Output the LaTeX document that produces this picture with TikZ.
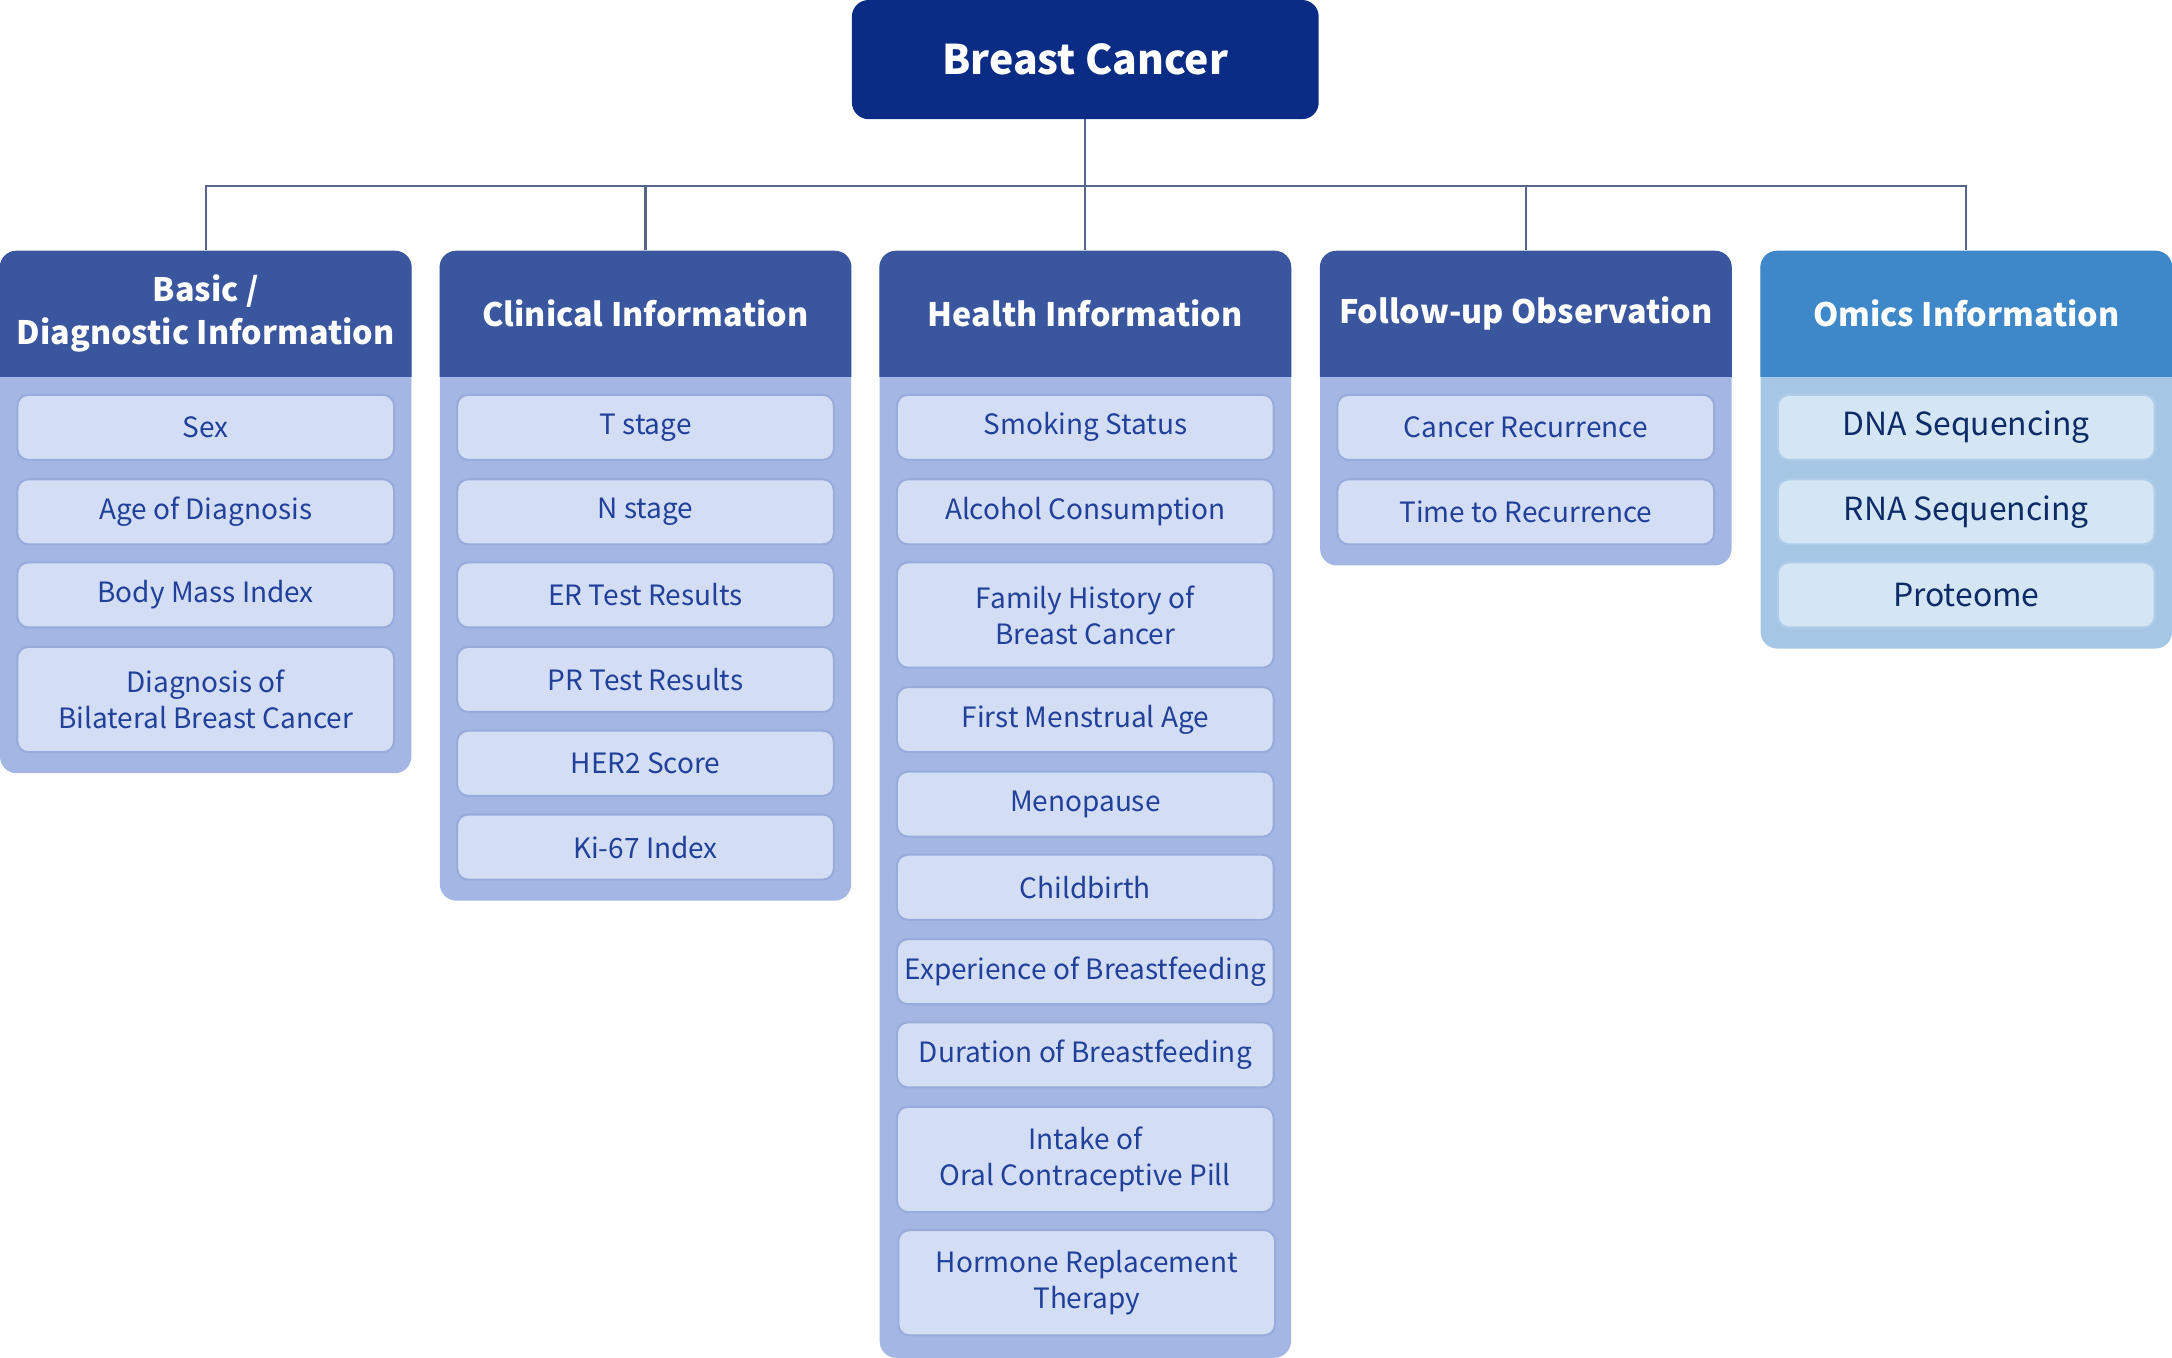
\documentclass[tikz,border=0pt]{standalone}
\usepackage{fontspec}
\setmainfont{Noto Sans CJK KR}
\definecolor{rootc}{HTML}{0B2C84}
\definecolor{hdrc}{HTML}{3A569F}
\definecolor{bodyc}{HTML}{A4B6E3}
\definecolor{itemf}{HTML}{D3DEF5}
\definecolor{itemb}{HTML}{98ACDC}
\definecolor{itemt}{HTML}{21409A}
\definecolor{ohdrc}{HTML}{3E88C9}
\definecolor{obodyc}{HTML}{A5C7E5}
\definecolor{oitemf}{HTML}{D4E5F3}
\definecolor{oitemb}{HTML}{AFCDEA}
\definecolor{oitemt}{HTML}{0D2B66}
\definecolor{connc}{HTML}{56658C}
\begin{document}
\begin{tikzpicture}[x=1pt,y=-1pt,
  rootbox/.style={fill=rootc, rounded corners=12pt, minimum width=337pt, minimum height=86pt, inner sep=0pt, text=white, font=\bfseries\fontsize{29.5}{34}\selectfont},
  colbody/.style={fill=#1, rounded corners=12pt, minimum width=297pt, inner sep=0pt, anchor=north},
  hdrtext/.style={minimum width=297pt, minimum height=91pt, inner sep=0pt, text=white, align=center, font=\bfseries\fontsize{23.3}{31}\selectfont},
  item/.style={draw=itemb, fill=itemf, line width=1.5pt, rounded corners=8pt, minimum width=272pt, minimum height=47pt, inner sep=0pt, text=itemt, align=center, font=\fontsize{20.2}{26}\selectfont},
  oitem/.style={item, draw=oitemb, fill=oitemf, text=oitemt, font=\fontsize{23}{28}\selectfont},
  tall/.style={minimum height=76pt},
  conn/.style={draw=connc, line width=1.5pt}
]
\useasboundingbox (0,0) rectangle (1568,980);

% root
\node[rootbox] (root) at (783.5,43) {Breast Cancer};

% column bodies
\node[colbody=bodyc, minimum height=377pt] (b1) at (148.5,181) {};
\node[colbody=bodyc, minimum height=469pt] (b2) at (466,181) {};
\node[colbody=bodyc, minimum height=799pt] (b3) at (783.5,181) {};
\node[colbody=bodyc, minimum height=227pt] (b4) at (1101.5,181) {};
\node[colbody=obodyc, minimum height=287pt] (b5) at (1419.5,181) {};

% header fills
\foreach \b/\c in {b1/hdrc,b2/hdrc,b3/hdrc,b4/hdrc,b5/ohdrc}{
  \fill[\c] ([yshift=-91pt]\b.north west) [rounded corners=12pt] -- (\b.north west) -- (\b.north east) [sharp corners] -- ([yshift=-91pt]\b.north east) -- cycle;
}

% header texts
\node[hdrtext] (h1) at (148.5,226.5) {Basic /\\Diagnostic Information};
\node[hdrtext] (h2) at (466,226.5) {Clinical Information};
\node[hdrtext] (h3) at (783.5,226.5) {Health Information};
\node[hdrtext] (h4) at (1101.5,226.5) {Follow-up Observation};
\node[hdrtext] (h5) at (1419.5,226.5) {Omics Information};

% connectors
\coordinate (bus) at (783.5,134);
\draw[conn] (root.south) -- (bus);
\foreach \h in {h1,h2,h3,h4,h5}{ \draw[conn] (\h.north) |- (bus); }

% column 1
\node[item] (c1a) at (148.5,308.5) {Sex};
\node[item] (c1b) at (148.5,369.5) {Age of Diagnosis};
\node[item] (c1c) at (148.5,429.5) {Body Mass Index};
\node[item,tall] (c1d) at (148.5,505) {Diagnosis of\\Bilateral Breast Cancer};

% column 2
\node[item] (c2a) at (466,308.5) {T stage};
\node[item] (c2b) at (466,369.5) {N stage};
\node[item] (c2c) at (466,429.5) {ER Test Results};
\node[item] (c2d) at (466,490.5) {PR Test Results};
\node[item] (c2e) at (466,551) {HER2 Score};
\node[item] (c2f) at (466,611.5) {Ki-67 Index};

% column 3
\node[item] (c3a) at (783.5,308.5) {Smoking Status};
\node[item] (c3b) at (783.5,369.5) {Alcohol Consumption};
\node[item,tall] (c3c) at (783.5,444) {Family History of\\Breast Cancer};
\node[item] (c3d) at (783.5,519.5) {First Menstrual Age};
\node[item] (c3e) at (783.5,580.5) {Menopause};
\node[item] (c3f) at (783.5,640.5) {Childbirth};
\node[item] (c3g) at (783.5,701.5) {Experience of Breastfeeding};
\node[item] (c3h) at (783.5,761.5) {Duration of Breastfeeding};
\node[item,tall] (c3i) at (783.5,837) {Intake of\\Oral Contraceptive Pill};
\node[item,tall] (c3j) at (784.5,926) {Hormone Replacement\\Therapy};

% column 4
\node[item] (c4a) at (1101.5,308.5) {Cancer Recurrence};
\node[item] (c4b) at (1101.5,369.5) {Time to Recurrence};

% column 5
\node[oitem] (c5a) at (1419.5,308.5) {DNA Sequencing};
\node[oitem] (c5b) at (1419.5,369.5) {RNA Sequencing};
\node[oitem] (c5c) at (1419.5,429.5) {Proteome};
\end{tikzpicture}
\end{document}
